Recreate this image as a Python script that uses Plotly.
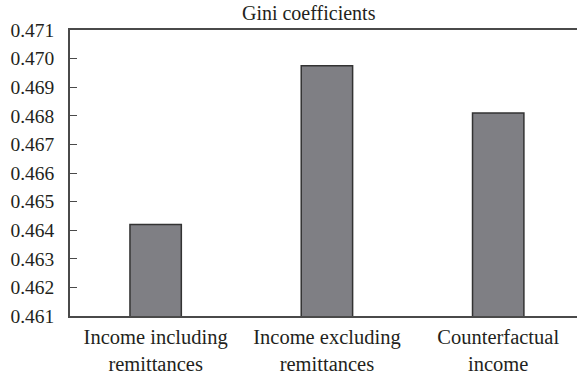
import plotly.graph_objects as go

categories = ["Income including<br>remittances", "Income excluding<br>remittances", "Counterfactual<br>income"]
gini_values = [0.4642, 0.46975, 0.4681]
y_ticks = [0.461, 0.462, 0.463, 0.464, 0.465, 0.466, 0.467, 0.468, 0.469, 0.470, 0.471]
y_tick_labels = ["0.461", "0.462", "0.463", "0.464", "0.465", "0.466", "0.467", "0.468", "0.469", "0.470", "0.471"]
title_text = "Gini coefficients"

fig = go.Figure(go.Bar(
    x=list(range(len(categories))),
    y=gini_values,
    base=0,
    width=0.3,
    marker=dict(color="#7f7f84", line=dict(color="#333333", width=1.5)),
))

fig.update_layout(
    width=577, height=382,
    margin=dict(l=70, r=0, t=30, b=66, autoexpand=False),
    paper_bgcolor="white", plot_bgcolor="white",
    font=dict(family="Liberation Serif", size=19, color="#231f20"),
    title=dict(text=title_text, x=0.535, xanchor="center", y=0.965, yanchor="middle",
               font=dict(size=20, family="Liberation Serif", color="#231f20"),
               automargin=False),
    showlegend=False,
)
fig.update_xaxes(
    range=[-0.5, 2.46],
    tickvals=list(range(len(categories))), ticktext=categories,
    showline=True, linecolor="#4a4a4a", linewidth=1.5, mirror=True,
    ticks="", showgrid=False, zeroline=False, automargin=False,
    tickfont=dict(size=20.5), ticklabelstandoff=2,
)
fig.update_yaxes(
    range=[0.461, 0.471],
    tickvals=y_ticks, ticktext=y_tick_labels,
    showline=True, linecolor="#4a4a4a", linewidth=1.5, mirror=True,
    ticks="inside", ticklen=7, tickcolor="#4a4a4a", tickwidth=1.2,
    showgrid=False, zeroline=False, automargin=False,
    tickfont=dict(size=19.5), ticklabelstandoff=10,
)

fig.write_html(
    "out.html",
    config={"displayModeBar": False},
    post_script="document.body.style.margin='0px';document.body.style.overflow='hidden';",
)
